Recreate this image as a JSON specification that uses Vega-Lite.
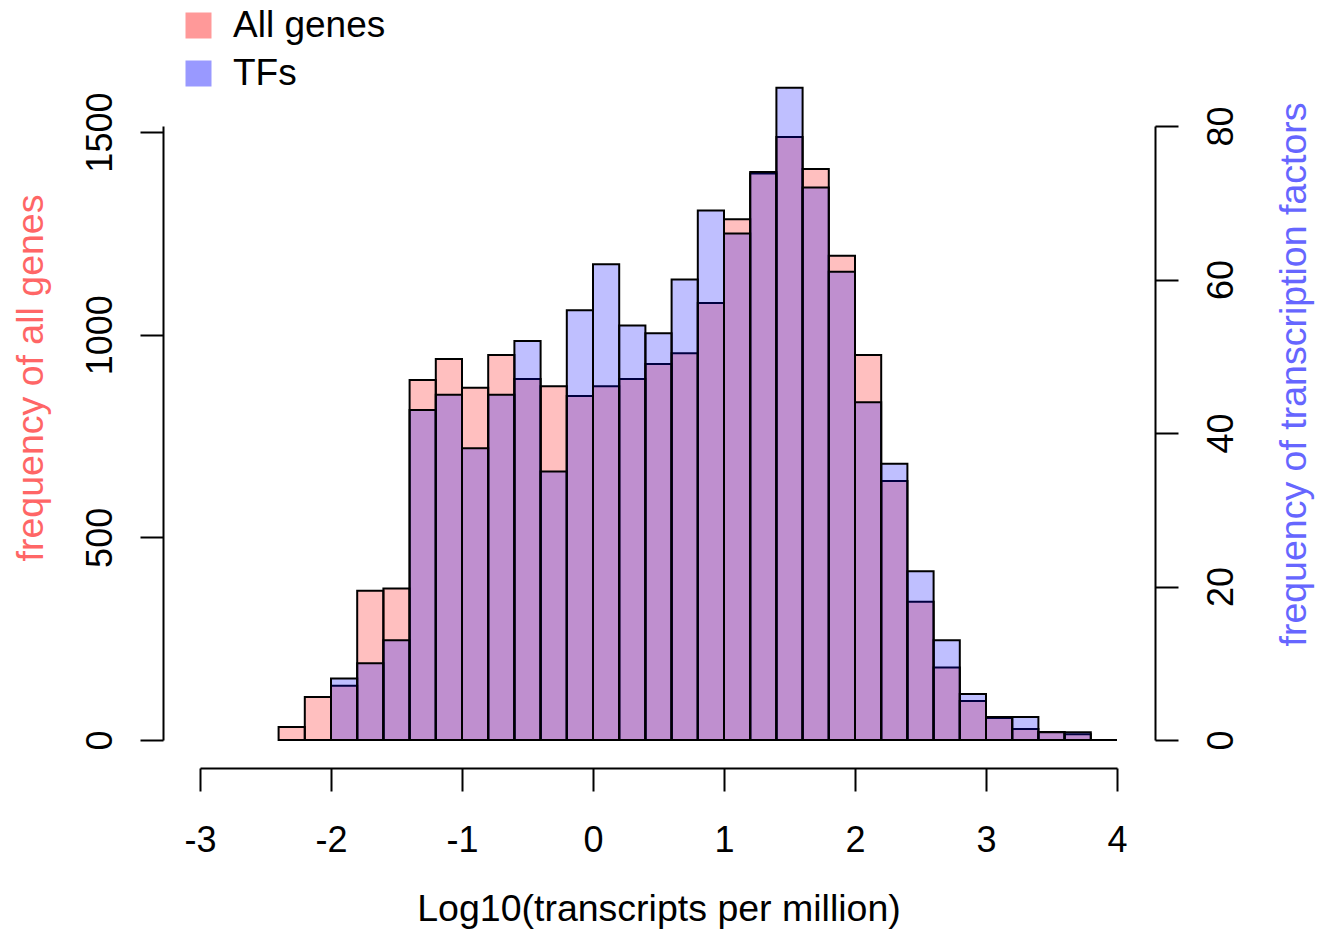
{
  "$schema": "https://vega.github.io/schema/vega-lite/v6.json",
  "width": 917,
  "height": 614,
  "autosize": {"type": "none"},
  "padding": {"left": 200, "top": 126, "right": 211, "bottom": 189},
  "background": "white",
  "config": {
    "view": {"stroke": null},
    "font": "Liberation Sans",
    "axis": {
      "domainColor": "black",
      "domainWidth": 2,
      "tickColor": "black",
      "tickWidth": 2,
      "tickSize": 23,
      "labelFontSize": 36,
      "labelColor": "black",
      "labelFont": "Liberation Sans",
      "titleFont": "Liberation Sans",
      "titleFontSize": 37.5,
      "titleFontWeight": "normal",
      "grid": false,
      "labelFlush": false,
      "labelOverlap": false,
      "labelExpr": "'' + datum.value"
    },
    "legend": {
      "labelFont": "Liberation Sans",
      "labelFontSize": 37,
      "labelColor": "black"
    }
  },
  "datasets": {
    "genes": [
      {"start": -2.4, "end": -2.2, "series": "All genes", "count": 32},
      {"start": -2.2, "end": -2.0, "series": "All genes", "count": 106},
      {"start": -2.0, "end": -1.8, "series": "All genes", "count": 134},
      {"start": -1.8, "end": -1.6, "series": "All genes", "count": 368},
      {"start": -1.6, "end": -1.4, "series": "All genes", "count": 374},
      {"start": -1.4, "end": -1.2, "series": "All genes", "count": 888},
      {"start": -1.2, "end": -1.0, "series": "All genes", "count": 940},
      {"start": -1.0, "end": -0.8, "series": "All genes", "count": 869},
      {"start": -0.8, "end": -0.6, "series": "All genes", "count": 950},
      {"start": -0.6, "end": -0.4, "series": "All genes", "count": 891},
      {"start": -0.4, "end": -0.2, "series": "All genes", "count": 873},
      {"start": -0.2, "end": 0.0, "series": "All genes", "count": 849},
      {"start": 0.0, "end": 0.2, "series": "All genes", "count": 873},
      {"start": 0.2, "end": 0.4, "series": "All genes", "count": 891},
      {"start": 0.4, "end": 0.6, "series": "All genes", "count": 928},
      {"start": 0.6, "end": 0.8, "series": "All genes", "count": 954},
      {"start": 0.8, "end": 1.0, "series": "All genes", "count": 1078},
      {"start": 1.0, "end": 1.2, "series": "All genes", "count": 1285},
      {"start": 1.2, "end": 1.4, "series": "All genes", "count": 1398},
      {"start": 1.4, "end": 1.6, "series": "All genes", "count": 1488},
      {"start": 1.6, "end": 1.8, "series": "All genes", "count": 1409},
      {"start": 1.8, "end": 2.0, "series": "All genes", "count": 1195},
      {"start": 2.0, "end": 2.2, "series": "All genes", "count": 950},
      {"start": 2.2, "end": 2.4, "series": "All genes", "count": 639},
      {"start": 2.4, "end": 2.6, "series": "All genes", "count": 341},
      {"start": 2.6, "end": 2.8, "series": "All genes", "count": 179},
      {"start": 2.8, "end": 3.0, "series": "All genes", "count": 96},
      {"start": 3.0, "end": 3.2, "series": "All genes", "count": 54},
      {"start": 3.2, "end": 3.4, "series": "All genes", "count": 27},
      {"start": 3.4, "end": 3.6, "series": "All genes", "count": 20},
      {"start": 3.6, "end": 3.8, "series": "All genes", "count": 14}
    ],
    "tfs": [
      {"start": -2.4, "end": -2.2, "series": "TFs", "count": 0},
      {"start": -2.2, "end": -2.0, "series": "TFs", "count": 0},
      {"start": -2.0, "end": -1.8, "series": "TFs", "count": 8},
      {"start": -1.8, "end": -1.6, "series": "TFs", "count": 10},
      {"start": -1.6, "end": -1.4, "series": "TFs", "count": 13},
      {"start": -1.4, "end": -1.2, "series": "TFs", "count": 43},
      {"start": -1.2, "end": -1.0, "series": "TFs", "count": 45},
      {"start": -1.0, "end": -0.8, "series": "TFs", "count": 38},
      {"start": -0.8, "end": -0.6, "series": "TFs", "count": 45},
      {"start": -0.6, "end": -0.4, "series": "TFs", "count": 52},
      {"start": -0.4, "end": -0.2, "series": "TFs", "count": 35},
      {"start": -0.2, "end": 0.0, "series": "TFs", "count": 56},
      {"start": 0.0, "end": 0.2, "series": "TFs", "count": 62},
      {"start": 0.2, "end": 0.4, "series": "TFs", "count": 54},
      {"start": 0.4, "end": 0.6, "series": "TFs", "count": 53},
      {"start": 0.6, "end": 0.8, "series": "TFs", "count": 60},
      {"start": 0.8, "end": 1.0, "series": "TFs", "count": 69},
      {"start": 1.0, "end": 1.2, "series": "TFs", "count": 66},
      {"start": 1.2, "end": 1.4, "series": "TFs", "count": 74},
      {"start": 1.4, "end": 1.6, "series": "TFs", "count": 85},
      {"start": 1.6, "end": 1.8, "series": "TFs", "count": 72},
      {"start": 1.8, "end": 2.0, "series": "TFs", "count": 61},
      {"start": 2.0, "end": 2.2, "series": "TFs", "count": 44},
      {"start": 2.2, "end": 2.4, "series": "TFs", "count": 36},
      {"start": 2.4, "end": 2.6, "series": "TFs", "count": 22},
      {"start": 2.6, "end": 2.8, "series": "TFs", "count": 13},
      {"start": 2.8, "end": 3.0, "series": "TFs", "count": 6},
      {"start": 3.0, "end": 3.2, "series": "TFs", "count": 3},
      {"start": 3.2, "end": 3.4, "series": "TFs", "count": 3},
      {"start": 3.4, "end": 3.6, "series": "TFs", "count": 1},
      {"start": 3.6, "end": 3.8, "series": "TFs", "count": 1},
      {"start": 3.8, "end": 4.0, "series": "TFs", "count": 0}
    ]
  },
  "layer": [
    {
      "data": {"name": "genes"},
      "mark": {"type": "bar", "fillOpacity": 0.25, "stroke": "black", "strokeWidth": 2},
      "encoding": {
        "x": {
          "field": "start",
          "type": "quantitative",
          "scale": {"domain": [-3, 4], "nice": false, "zero": false},
          "axis": {
            "values": [-3, -2, -1, 0, 1, 2, 3, 4],
            "offset": 28,
            "labelPadding": 32,
            "title": "Log10(transcripts per million)",
            "titleColor": "black",
            "titleX": 458.5,
            "titleY": 122,
            "titleAlign": "center",
            "titleBaseline": "top"
          }
        },
        "x2": {"field": "end"},
        "y": {
          "field": "count",
          "type": "quantitative",
          "stack": null,
          "scale": {"domain": [0, 1515], "nice": false},
          "axis": {
            "orient": "left",
            "values": [0, 500, 1000, 1500],
            "offset": 37,
            "labelAngle": -90,
            "labelAlign": "center",
            "labelBaseline": "alphabetic",
            "labelPadding": 29,
            "title": "frequency of all genes",
            "titleColor": "#ff6666",
            "titleAngle": -90,
            "titleX": -120.5,
            "titleY": 251.5,
            "titleAlign": "center",
            "titleBaseline": "alphabetic"
          }
        },
        "y2": {"datum": 0},
        "color": {
          "field": "series",
          "type": "nominal",
          "scale": {"domain": ["All genes", "TFs"], "range": ["#ff0000", "#0000ff"]},
          "legend": {
            "title": null,
            "orient": "none",
            "legendX": -20,
            "legendY": -119,
            "padding": 0,
            "symbolType": "square",
            "symbolSize": 676,
            "symbolOpacity": 0.4,
            "symbolStrokeWidth": 0,
            "rowPadding": 10,
            "labelOffset": 16
          }
        }
      }
    },
    {
      "data": {"name": "tfs"},
      "mark": {"type": "bar", "fillOpacity": 0.25, "stroke": "black", "strokeWidth": 2},
      "encoding": {
        "x": {"field": "start", "type": "quantitative"},
        "x2": {"field": "end"},
        "y": {
          "field": "count",
          "type": "quantitative",
          "stack": null,
          "scale": {"domain": [0, 80], "nice": false},
          "axis": {
            "orient": "right",
            "values": [0, 20, 40, 60, 80],
            "offset": 38,
            "labelAngle": -90,
            "labelAlign": "center",
            "labelBaseline": "top",
            "labelPadding": 26,
            "title": "frequency of transcription factors",
            "titleColor": "#6666ff",
            "titleAngle": -90,
            "titleX": 150.5,
            "titleY": 248,
            "titleAlign": "center",
            "titleBaseline": "alphabetic"
          }
        },
        "y2": {"datum": 0},
        "color": {"field": "series", "type": "nominal"}
      }
    }
  ],
  "resolve": {"scale": {"y": "independent"}, "axis": {"y": "independent"}}
}
